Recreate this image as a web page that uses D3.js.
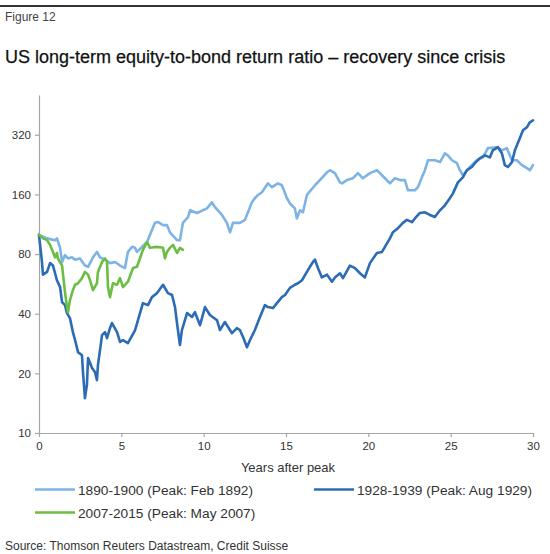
<!DOCTYPE html>
<html><head><meta charset="utf-8">
<script src="https://cdn.jsdelivr.net/npm/d3@7/dist/d3.min.js"></script>
<style>body{margin:0;background:#fff}svg{display:block;font-family:"Liberation Sans",Arial,sans-serif}</style>
</head><body><svg id="c" width="550" height="554"></svg>
<script>
const xTicks=[0,5,10,15,20,25,30];
const yTicks=[10,20,40,80,160,320];
const seriesNames=["1890-1900 (Peak: Feb 1892)","1928-1939 (Peak: Aug 1929)","2007-2015 (Peak: May 2007)"];
const s1890=[[0,100],[0.49,96],[0.97,94],[1.09,96],[1.28,86],[1.40,73],[1.58,79],[1.76,76],[2.0,77],[2.19,75],[2.49,76],[2.79,70],[2.98,69],[3.28,77],[3.52,82],[3.70,77],[4.01,75],[4.31,72],[4.62,73],[4.92,70],[5.22,68],[5.40,82],[5.65,87],[5.83,86],[5.95,82],[6.56,92],[7.04,115],[7.23,116],[7.53,112],[7.77,112],[7.95,103],[8.38,94],[8.56,94],[8.74,115],[9.05,123],[9.17,133],[9.59,129],[10.20,136],[10.50,146],[10.69,138],[11.11,126],[11.41,115],[11.60,103],[11.78,115],[12.20,115],[12.51,119],[12.93,146],[13.11,153],[13.30,159],[13.54,164],[13.90,182],[14.15,174],[14.51,182],[14.75,178],[15.06,153],[15.24,144],[15.54,136],[15.66,121],[15.85,133],[16.03,130],[16.27,159],[16.76,178],[17.06,189],[17.49,207],[17.67,212],[17.97,205],[18.28,184],[18.40,182],[18.70,189],[19.06,193],[19.37,205],[19.67,193],[20.10,205],[20.52,212],[20.70,205],[21.01,193],[21.31,182],[21.61,193],[21.92,189],[22.22,189],[22.40,168],[22.83,168],[23.01,174],[23.25,195],[23.44,212],[23.62,238],[24.04,238],[24.35,233],[24.65,258],[24.83,252],[25.08,238],[25.38,230],[25.56,212],[25.74,200],[26.17,220],[26.59,238],[26.96,246],[27.26,274],[27.81,277],[28.11,267],[28.41,274],[28.72,238],[29.02,238],[29.33,225],[29.63,217],[29.81,212],[30.0,225]];
const s1928=[[0,100],[0.18,73],[0.24,63],[0.49,65],[0.67,72],[0.85,70],[1.09,59],[1.28,54.5],[1.40,45.8],[1.58,44.2],[1.70,40.3],[1.88,38.0],[2.06,32.3],[2.19,29.4],[2.37,25.6],[2.61,24.7],[2.67,20.3],[2.79,15.0],[2.91,17.5],[2.98,23.9],[3.22,21.3],[3.40,20.3],[3.52,18.5],[3.58,22.0],[3.83,31.2],[4.01,32.3],[4.13,30.1],[4.31,33.8],[4.43,35.9],[4.74,32.3],[4.92,28.8],[5.10,29.4],[5.40,28.4],[5.83,33],[6.31,45.2],[6.62,44.2],[6.86,48.5],[7.16,50.8],[7.53,56],[7.83,50.8],[8.08,49.7],[8.26,43.2],[8.38,35.9],[8.56,27.8],[8.68,33.1],[8.99,40.3],[9.29,38.5],[9.47,40.7],[9.78,35.0],[10.08,43.2],[10.38,39.4],[10.81,37.1],[10.99,33.1],[11.29,36.3],[11.72,31.9],[12.02,33.8],[12.20,33.1],[12.39,30.5],[12.63,27.1],[12.81,29.4],[13.11,33.1],[13.42,38.5],[13.72,44.2],[13.90,43.2],[14.21,42.7],[14.45,45.2],[14.75,48.5],[14.94,49.7],[15.24,54],[15.54,56],[15.73,57],[15.97,59],[16.27,65],[16.45,69],[16.64,73],[16.76,75],[16.94,68],[17.18,61],[17.49,63],[17.79,58],[17.97,61],[18.28,64],[18.46,60.5],[18.88,70],[19.19,68],[19.49,64],[19.79,61],[20.10,72],[20.52,81],[20.83,82],[21.01,87],[21.31,96],[21.49,103],[21.80,108],[22.10,115],[22.34,119],[22.65,116],[22.83,121],[23.13,129],[23.44,130],[23.74,126],[24.04,123],[24.35,133],[24.65,141],[24.95,153],[25.14,162],[25.44,184],[25.74,195],[25.99,212],[26.29,220],[26.47,230],[26.78,244],[27.08,252],[27.38,246],[27.56,267],[27.87,277],[28.11,258],[28.29,225],[28.48,220],[28.72,233],[28.90,267],[29.20,307],[29.39,337],[29.63,349],[29.81,370],[30.0,378]];
const s2007=[[0,100],[0.24,96],[0.49,94],[0.67,89],[0.85,82],[0.97,77],[1.09,81],[1.15,76],[1.40,70],[1.58,51.4],[1.70,43.2],[1.76,40.7],[1.88,46.9],[2.06,52.6],[2.19,56],[2.37,57],[2.61,60.5],[2.79,65],[2.98,63],[3.10,59],[3.28,52.6],[3.52,57],[3.58,65],[3.83,73],[4.01,76],[4.13,73],[4.19,54.5],[4.31,48.5],[4.49,57],[4.74,56],[4.92,60.5],[5.10,54.5],[5.40,58],[5.71,68],[5.95,69],[6.13,76],[6.31,84],[6.56,92],[6.74,86],[7.16,87],[7.53,86],[7.65,76],[7.77,82],[7.95,86],[8.14,89],[8.38,81],[8.56,86],[8.74,84]];
const colors=["#7db4e4","#2b6cb5","#6cbd44"];

const svg=d3.select("#c");
svg.append("rect").attr("x",0).attr("y",5).attr("width",550).attr("height",2).attr("fill","#333");
svg.append("text").attr("x",5).attr("y",21).attr("font-size",12).attr("fill","#444").text("Figure 12");
svg.append("text").attr("x",5).attr("y",62.5).attr("font-size",18).attr("fill","#111").attr("stroke","#111").attr("stroke-width",0.25).text("US long-term equity-to-bond return ratio \u2013 recovery since crisis");

const x=d3.scaleLinear().domain([0,30]).range([39,533]);
const y=d3.scaleLog().base(2).domain([10,508]).range([433,95]);

const gx=svg.append("g").attr("transform","translate(0,433)")
  .call(d3.axisBottom(x).tickValues(xTicks).tickSize(4).tickSizeOuter(0).tickPadding(5));
const gy=svg.append("g").attr("transform","translate(39,0)")
  .call(d3.axisLeft(y).tickValues(yTicks).tickFormat(d3.format("d")).tickSize(4).tickSizeOuter(0).tickPadding(4));
[gx,gy].forEach(g=>{
  g.selectAll("path,line").attr("stroke","#a6a6a6").attr("stroke-width",1.2);
  g.selectAll("text").attr("font-size",11.5).attr("fill","#333").attr("font-family","Liberation Sans,Arial,sans-serif");
});
svg.append("text").attr("x",288).attr("y",472).attr("text-anchor","middle").attr("font-size",13).attr("fill","#333").text("Years after peak");

const line=d3.line().x(d=>x(d[0])).y(d=>y(d[1])).curve(d3.curveLinear);
[s1890,s1928,s2007].forEach((s,i)=>{
  svg.append("path").datum(s).attr("d",line).attr("fill","none").attr("stroke",colors[i])
    .attr("stroke-width",2.6).attr("stroke-linejoin","round").attr("stroke-linecap","round");
});

const legPos=[[35,489.5],[314,489.5],[35,512.5]];
seriesNames.forEach((n,i)=>{
  const [lx,ly]=legPos[i];
  svg.append("line").attr("x1",lx).attr("x2",lx+40).attr("y1",ly).attr("y2",ly).attr("stroke",colors[i]).attr("stroke-width",2.6);
  svg.append("text").attr("x",lx+43).attr("y",ly+5).attr("font-size",13.7).attr("fill","#333").text(n);
});
svg.append("text").attr("x",5).attr("y",550).attr("font-size",12).attr("fill","#333").text("Source: Thomson Reuters Datastream, Credit Suisse");
</script></body></html>
